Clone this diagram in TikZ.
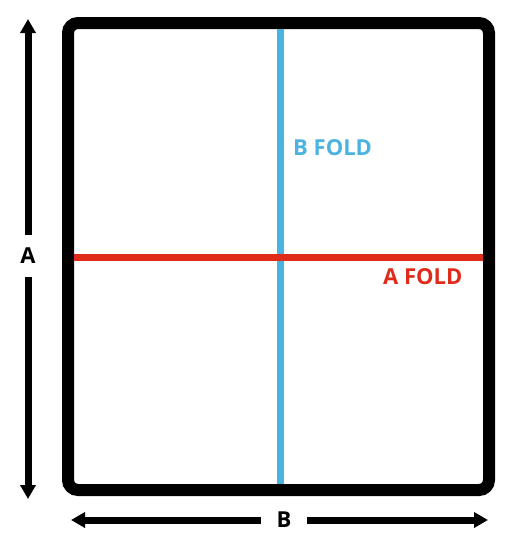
\documentclass[tikz,border=0pt]{standalone}
\usepackage{fontspec}
\setmainfont{Open Sans}
\usetikzlibrary{arrows.meta}
\definecolor{foldblue}{HTML}{4BB3E0}
\definecolor{foldred}{HTML}{DE2B1A}
\begin{document}
\begin{tikzpicture}[x=1pt,y=-1pt,
  frame/.style={line width=12pt, rounded corners=10pt},
  dimarrow/.style={line width=7pt, -{Triangle[length=14pt,width=15pt]}},
  dimlabel/.style={font=\fontsize{22}{22}\selectfont\bfseries, inner sep=0pt, text depth=0pt},
  foldlabel/.style={font=\fontsize{22}{22}\selectfont\bfseries, inner sep=0pt, text depth=0pt, anchor=west}]
\useasboundingbox (0,0) rectangle (517,549);
\draw[frame] (68,23) rectangle (489,490);
% folds
\coordinate (btop) at (280.5,29);
\coordinate (bbot) at (280.5,484);
\coordinate (aleft) at (74,257);
\coordinate (aright) at (483,257);
\draw[foldblue, line width=7pt] (btop) -- (bbot);
\draw[foldred, line width=7pt] (aleft) -- (aright);
\node[foldlabel, text=foldblue] (bfold) at (293,148) {B FOLD};
\node[foldlabel, text=foldred] (afold) at (383,277) {A FOLD};
% dimension A
\coordinate (atop) at (28,19);
\coordinate (abot) at (28,499);
\node[dimlabel, minimum height=42pt] (A) at (28,256) {A};
\draw[dimarrow] (A.north) -- (atop);
\draw[dimarrow] (A.south) -- (abot);
% dimension B
\coordinate (bleft) at (71,520);
\coordinate (bright) at (488,520);
\node[dimlabel, minimum width=46pt] (B) at (284,520) {B};
\draw[dimarrow] (B.west) -- (bleft);
\draw[dimarrow] (B.east) -- (bright);
\end{tikzpicture}
\end{document}
